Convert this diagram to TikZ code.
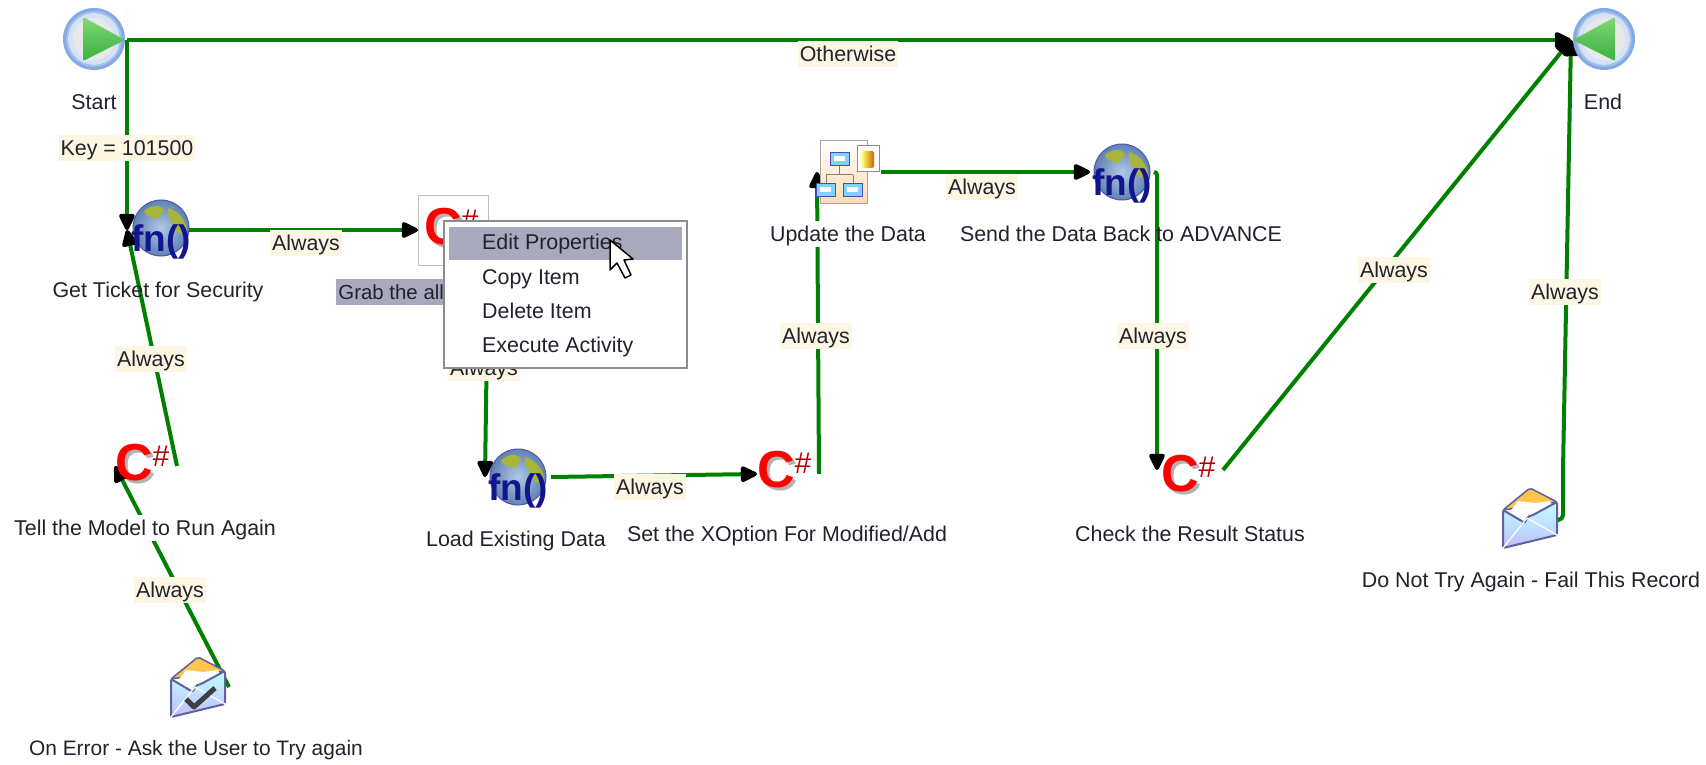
\documentclass[tikz,border=0pt]{standalone}
\usepackage{fontspec}
\setmainfont{Liberation Sans}
\usetikzlibrary{arrows.meta,calc}
\definecolor{flow}{HTML}{008000}
\definecolor{labbg}{HTML}{FDF6E3}
\definecolor{seltext}{HTML}{A9A9BD}
\definecolor{inktext}{HTML}{22222E}
\definecolor{ringblue}{HTML}{6F9BE0}
\definecolor{fnblue}{HTML}{14148C}
\definecolor{landgreen}{HTML}{A9B53A}
\definecolor{seablue}{HTML}{6F9AD2}
\definecolor{triA}{HTML}{7FDC6F}
\definecolor{triB}{HTML}{5CC25C}
\definecolor{triC}{HTML}{39B539}
\tikzset{
  spot/.style={inner sep=0pt,outer sep=0pt,minimum height=50pt},
  flowline/.style={draw=flow,line width=4pt,rounded corners=3pt,-{Triangle[length=19pt,width=17pt,round=false,color=black]}},
  caption/.style={font=\fontsize{21.4}{24}\selectfont,text=inktext,inner sep=0pt,text height=15.3pt,text depth=0pt},
  blockcaption/.style={caption,fill=white,inner xsep=2pt,minimum height=26pt},
  edgelabel/.style={caption,fill=labbg,inner xsep=2pt,minimum height=26pt},
  menuitem/.style={caption,anchor=west},
}
% Start / End icon
\newcommand{\flagicon}[3]{%
  \begin{scope}[shift={(#1,#2)},xscale=#3]
    \fill[ringblue!85!white] (0,0) circle (31);
    \fill[white!70!ringblue] (0,0) circle (26);
    \draw[ringblue!60!white,line width=1.5pt] (0,0) circle (27);
    \fill[black!9] (0,0) circle (21);
    \shade[top color=triA,bottom color=triC,middle color=triB,rounded corners=2pt]
      (-11,-22) -- (31,1) -- (-11,22) -- cycle;
  \end{scope}}
% Globe icon with fn()
\newcommand{\globeicon}[3]{%
  \begin{scope}[shift={(#1,#2)}]
    \shade[inner color=seablue!55!white,outer color=seablue!85!black,draw=blue!35!gray,line width=1pt] (0,0) circle (28);
    \fill[landgreen] (-17,-17) .. controls (-8,-24) and (0,-23) .. (3,-18) .. controls (0,-11) and (-5,-7) .. (-8,-10) .. controls (-12,-12) and (-16,-12) .. (-17,-17) -- cycle;
    \fill[landgreen] (8,-20) .. controls (17,-16) and (26,-8) .. (26,3) .. controls (22,8) and (14,6) .. (12,-3) .. controls (10,-8) and (4,-14) .. (8,-20) -- cycle;
    \node[font=\fontsize{37}{37}\selectfont\bfseries,text=fnblue,inner sep=0pt] (#3) at (0,14) {fn()};
  \end{scope}}
% C# icon
\newcommand{\sharpicon}[3]{%
  \begin{scope}[shift={(#1,#2)}]
    \node[font=\fontsize{52}{52}\selectfont\bfseries,text=black,opacity=.3,inner sep=0pt] (#3s) at (3,3) {C};
    \node[font=\fontsize{52}{52}\selectfont\bfseries,text=red,inner sep=0pt] (#3c) at (0,0) {C};
    \node[font=\fontsize{30}{30}\selectfont,text=red!70!black,inner sep=0pt] (#3h) at (27,-7) {\#};
  \end{scope}}
% Envelope icon
\newcommand{\envbody}[2]{%
  \begin{scope}[shift={(#1,#2)}]
    \fill[orange!65!yellow!70!white,draw=blue!25!gray,line width=1.5pt,rounded corners=2pt] (-27,-8) -- (0,-30) -- (27,-16) -- cycle;
    \fill[white] (-20,-6) -- (-12,-17) -- (5,-15) -- (20,-17) -- (23,-10) -- (-5,4) -- cycle;
    \shade[top color=cyan!25!white,bottom color=blue!25!white,draw=blue!25!gray,line width=2pt,rounded corners=2pt]
      (-27,-8) -- (-5,5) -- (-3,-1) -- (3,-3) -- (27,-16) -- (27,17) -- (-27,30) -- cycle;
    \draw[white,line width=1.2pt] (-27,30) -- (-3,0) -- (27,17);
  \end{scope}}
\begin{document}
\begin{tikzpicture}[x=1pt,y=-1pt]
\useasboundingbox (0,0) rectangle (1706,765);
\fill[white] (0,0) rectangle (1706,765);
% anchor nodes of the activities
\node[spot,minimum width=64pt] (start) at (95,40) {};
\node[spot,minimum width=64pt] (finish) at (1603,40) {};
\node[spot,minimum width=62pt] (ticket) at (158,230) {};
\node[spot,minimum width=70pt,minimum height=70pt] (grab) at (453,230) {};
\node[spot,minimum width=62pt] (model) at (146,466) {};
\node[spot,minimum width=62pt] (onerror) at (198,687) {};
\node[spot,minimum width=66pt] (load) at (518,477) {};
\node[spot,minimum width=62pt] (xoption) at (788,474) {};
\node[spot,minimum width=64pt] (update) at (849,172) {};
\node[spot,minimum width=64pt] (send) at (1122,172) {};
\node[spot,minimum width=66pt] (check) at (1190,470) {};
\node[spot,minimum width=56pt] (failrec) at (1531,520) {};
\coordinate (failup) at (1563,470);
% connectors
\draw[flowline] (start.east) -- (finish.west);
\draw[flowline] (start.east) -- (ticket.west);
\draw[flowline] (ticket.east) -- (grab.west);
\draw[flowline] (model.east) -- (ticket.west);
\draw[flowline] (onerror.east) -- (model.west);
\draw[flowline] (grab.south east) -- (load.west);
\draw[flowline] (load.east) -- (xoption.west);
\draw[flowline] (xoption.east) -- (update.west);
\draw[flowline] (update.east) -- (send.west);
\draw[flowline] (send.east) -| (check.west);
\draw[flowline] (check.east) -- (finish.west);
\draw[flowline,rounded corners=5pt] (failrec.east) -| (failup) -- (finish.west);
% icons
\flagicon{94}{39}{1}
\flagicon{1604}{39}{-1}
\globeicon{161}{228}{fnA}
\globeicon{518}{477}{fnB}
\globeicon{1122}{172}{fnC}
\draw[black!25,fill=white,line width=1pt] (grab.north west) rectangle (grab.south east);
\sharpicon{443}{227}{csA}
\sharpicon{134}{463}{csB}
\sharpicon{776}{470}{csC}
\sharpicon{1180}{474}{csD}
% update-the-data icon
\begin{scope}[shift={(820,141)}]
  \shade[top color=white,bottom color=orange!30!white,draw=black!35,line width=1pt] (0,0) rectangle (47,62);
  \draw[black!50,line width=1pt] (19,20) -- (19,34) (6,34) -- (33,34) (6,34) -- (6,42) (33,34) -- (33,42);
  \foreach \px/\py in {10/11,-4/42,23/42}{\fill[blue!35!cyan!50!white,draw=blue!40!gray] (\px,\py) rectangle ++(19,13); \fill[white] (\px+4,\py+4) rectangle ++(11,5);}
  \fill[white,draw=black!45,line width=1pt] (37,5) rectangle (59,31);
  \shade[left color=yellow!60!white,right color=orange!80!black,rounded corners=2pt] (42,10) rectangle (54,27);
\end{scope}
\envbody{198}{687}
\begin{scope}[shift={(198,687)}]
  \draw[black!75,line width=5pt,line join=round] (-12,12) -- (-4,20) -- (17,1);
\end{scope}
\envbody{1530}{518}
% captions
\node[caption] (tstart) at (94,102) {Start};
\node[caption] (tend) at (1603,102) {End};
\node[caption] (tticket) at (158,290) {Get Ticket for Security};
\node[blockcaption] (tmodel) at (145,528) {Tell the Model to Run Again};
\node[caption,font=\fontsize{20.9}{24}\selectfont] (terror) at (196,748) {On Error - Ask the User to Try again};
\node[caption] (tload) at (516,539) {Load Existing Data};
\node[caption] (txopt) at (787,534) {Set the XOption For Modified/Add};
\node[blockcaption] (tupdate) at (848,234) {Update the Data};
\node[caption] (tsend) at (1121,234) {Send the Data Back to ADVANCE};
\node[caption] (tcheck) at (1190,534) {Check the Result Status};
\node[caption] (tfail) at (1531,580) {Do Not Try Again - Fail This Record};
\node[caption,font=\fontsize{20.4}{24}\selectfont,anchor=west,fill=seltext,minimum height=26pt,inner xsep=1pt,minimum width=110pt,align=left] (tgrab) at (336,292) {Grab the all};
% connector labels
\node[edgelabel] (lother) at (848,54) {Otherwise};
\node[edgelabel] (lkey) at (127,148) {Key = 101500};
\node[edgelabel] (lb) at (306,243) {Always};
\node[edgelabel] (lc) at (151,359) {Always};
\node[edgelabel] (ld) at (170,590) {Always};
\node[edgelabel] (le) at (484,368) {Always};
\node[edgelabel] (lf) at (650,487) {Always};
\node[edgelabel] (lg) at (816,336) {Always};
\node[edgelabel] (lh) at (982,187) {Always};
\node[edgelabel] (li) at (1153,336) {Always};
\node[edgelabel] (lj) at (1394,270) {Always};
\node[edgelabel] (lk) at (1565,292) {Always};
% context menu
\draw[black!45,fill=white,line width=1.5pt] (444,221) rectangle (687,368);
\fill[seltext] (449,227) rectangle (682,260);
\node[menuitem] (m1) at (482,242) {Edit Properties};
\node[menuitem] (m2) at (482,277) {Copy Item};
\node[menuitem] (m3) at (482,311) {Delete Item};
\node[menuitem] (m4) at (482,345) {Execute Activity};
% mouse pointer
\draw[black,fill=white,line width=1.5pt,line join=round] (610,240) -- (610,270) -- (617,263) -- (625,278) -- (631,275) -- (624,260) -- (633,259) -- cycle;
\end{tikzpicture}
\end{document}
